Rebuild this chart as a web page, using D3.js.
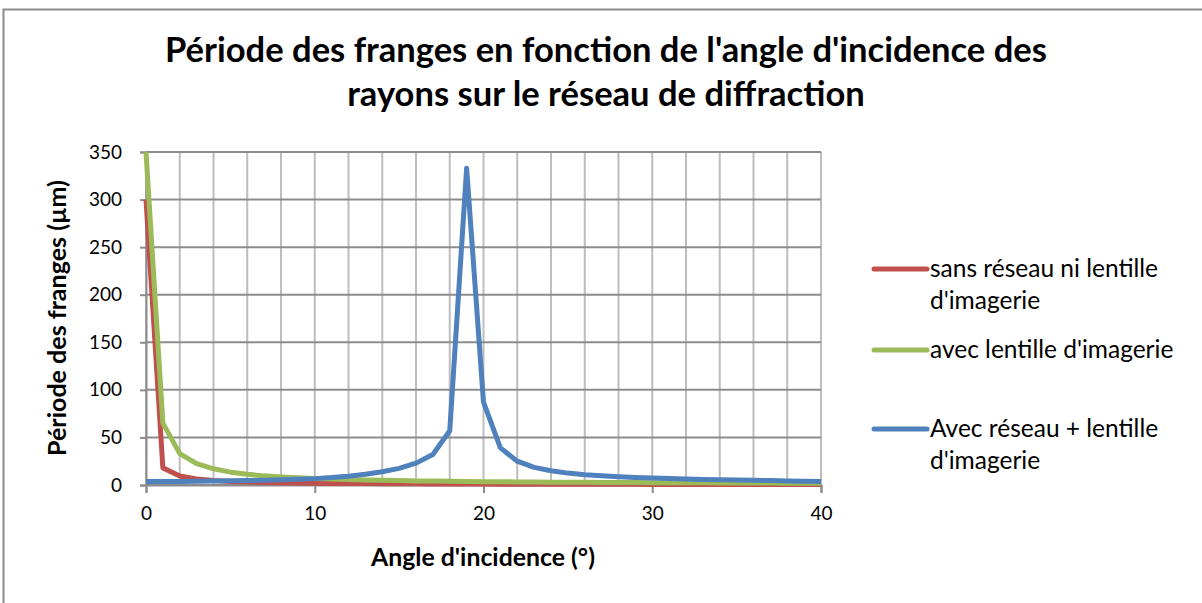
<!DOCTYPE html>
<html>
<head>
<meta charset="utf-8">
<script src="https://cdn.jsdelivr.net/npm/d3@7"></script>
<style>
  html, body { margin: 0; padding: 0; background: #fff; }
  svg { display: block; }
</style>
</head>
<body>
<svg id="chart" width="1202" height="603"></svg>
<script>
// Angle d'incidence (degrés)
const angles = d3.range(0, 41);

// Période des franges (µm) pour chaque montage
const sansReseau = [300, 18, 9.5, 6.3, 4.7, 3.8, 3.2, 2.7, 2.4, 2.1, 1.9, 1.7, 1.6, 1.5, 1.4, 1.3, 1.2, 1.1, 1.05, 1.0,
  0.95, 0.9, 0.86, 0.82, 0.79, 0.76, 0.73, 0.7, 0.68, 0.66, 0.64, 0.62, 0.6, 0.58, 0.56, 0.55, 0.53, 0.52, 0.5, 0.49, 0.48];
const avecLentille = [350, 65, 33, 22.5, 17, 13.5, 11.2, 9.6, 8.4, 7.5, 6.8, 6.2, 5.7, 5.3, 4.9, 4.6, 4.3, 4.1, 3.9, 3.7,
  3.5, 3.4, 3.2, 3.1, 3.0, 2.9, 2.8, 2.7, 2.6, 2.5, 2.45, 2.4, 2.3, 2.25, 2.2, 2.1, 2.05, 2.0, 1.95, 1.9, 1.85];
const avecReseau = [3.6, 3.7, 3.8, 4.0, 4.2, 4.4, 4.7, 5.0, 5.4, 6.0, 6.7, 7.8, 9.3, 11.3, 14, 17.5, 23, 32, 57, 333,
  87, 39, 25, 18.5, 15, 12.5, 10.8, 9.6, 8.6, 7.9, 7.3, 6.8, 6.3, 5.9, 5.5, 5.2, 4.9, 4.6, 4.3, 4.0, 3.8];

const seriesNames = ["sans réseau ni lentille d'imagerie", "avec lentille d'imagerie", "Avec réseau + lentille d'imagerie"];
const seriesColors = ["#C0504D", "#9BBB59", "#4F81BD"];
const seriesValues = [sansReseau, avecLentille, avecReseau];

const xTicks = [0, 10, 20, 30, 40];
const xGrid = d3.range(0, 41, 2);
const yTicks = [0, 50, 100, 150, 200, 250, 300, 350];

const titleLines = ["Période des franges en fonction de l'angle d'incidence des", "rayons sur le réseau de diffraction"];
const xTitle = "Angle d'incidence (°)";
const yTitle = "Période des franges (µm)";

const FONT = "Lato, 'Open Sans', sans-serif";
const svg = d3.select("#chart");

// cadre du graphique
svg.append("path")
  .attr("d", "M3.5,603 L3.5,9.5 L1202,9.5")
  .attr("fill", "none").attr("stroke", "#8c8c8c").attr("stroke-width", 2);

const plot = { left: 146, right: 821, top: 152, bottom: 485 };
const x = d3.scaleLinear().domain([0, 40]).range([plot.left, plot.right]);
const y = d3.scaleLinear().domain([0, 350]).range([plot.bottom, plot.top]);

// quadrillage vertical
svg.append("g").selectAll("line").data(xGrid).join("line")
  .attr("x1", d => x(d)).attr("x2", d => x(d))
  .attr("y1", plot.top).attr("y2", plot.bottom)
  .attr("stroke", "#bdbdbd").attr("stroke-width", 2);

// quadrillage horizontal
svg.append("g").selectAll("line").data(yTicks).join("line")
  .attr("x1", plot.left).attr("x2", plot.right)
  .attr("y1", d => y(d)).attr("y2", d => y(d))
  .attr("stroke", "#8c8c8c").attr("stroke-width", 2);

// axe Y
const yAxis = svg.append("g").attr("transform", `translate(${plot.left},0)`)
  .call(d3.axisLeft(y).tickValues(yTicks).tickSize(6).tickPadding(18));
yAxis.select(".domain").attr("stroke", "#8c8c8c").attr("stroke-width", 2);
yAxis.selectAll(".tick line").attr("stroke", "#8c8c8c").attr("stroke-width", 2);
yAxis.selectAll(".tick text").attr("font-family", FONT).attr("font-size", 19).attr("fill", "#000");

// axe X
const xAxis = svg.append("g").attr("transform", `translate(0,${plot.bottom})`)
  .call(d3.axisBottom(x).tickValues(xTicks).tickSize(8).tickPadding(14));
xAxis.select(".domain").attr("stroke", "#8c8c8c").attr("stroke-width", 2);
xAxis.selectAll(".tick line").attr("stroke", "#8c8c8c").attr("stroke-width", 2);
xAxis.selectAll(".tick text").attr("font-family", FONT).attr("font-size", 19).attr("fill", "#000");

// courbes
const line = d3.line().x((d, i) => x(angles[i])).y(d => y(d));
svg.append("g").selectAll("path").data(seriesValues).join("path")
  .attr("d", d => line(d))
  .attr("fill", "none")
  .attr("stroke", (d, i) => seriesColors[i])
  .attr("stroke-width", 5)
  .attr("stroke-linejoin", "round")
  .attr("stroke-linecap", "butt");

// ajuste la taille de police pour une largeur donnée
function fitSize(text, weight, base, width) {
  const probe = svg.append("text").attr("font-family", FONT).attr("font-weight", weight)
    .attr("font-size", base).text(text);
  const w = probe.node().getComputedTextLength();
  probe.remove();
  return base * width / w;
}

// titre
const titleSize = fitSize(titleLines[0], "bold", 28, 882);
titleLines.forEach((s, i) => {
  svg.append("text").attr("x", 606).attr("y", 62 + i * 44).attr("text-anchor", "middle")
    .attr("font-family", FONT).attr("font-weight", "bold").attr("font-size", titleSize).text(s);
});

// titres des axes
svg.append("text").attr("x", 483).attr("y", 566).attr("text-anchor", "middle")
  .attr("font-family", FONT).attr("font-weight", "bold")
  .attr("font-size", fitSize(xTitle, "bold", 19, 224)).text(xTitle);
svg.append("text").attr("transform", "translate(66,318) rotate(-90)").attr("text-anchor", "middle")
  .attr("font-family", FONT).attr("font-weight", "bold")
  .attr("font-size", fitSize(yTitle, "bold", 19, 276)).text(yTitle);

// légende
const legendRows = [
  { lines: ["sans réseau ni lentille", "d'imagerie"], y: 269 },
  { lines: ["avec lentille d'imagerie"], y: 350 },
  { lines: ["Avec réseau + lentille", "d'imagerie"], y: 429 }
];
const legendSize = fitSize(legendRows[0].lines[0], "normal", 20, 228);
const lg = svg.append("g");
legendRows.forEach((row, i) => {
  lg.append("line").attr("x1", 874).attr("x2", 927).attr("y1", row.y).attr("y2", row.y)
    .attr("stroke", seriesColors[i]).attr("stroke-width", 5).attr("stroke-linecap", "round");
  const t = lg.append("text").attr("x", 930).attr("y", row.y + 8)
    .attr("font-family", FONT).attr("font-size", legendSize).attr("fill", "#000");
  row.lines.forEach((s, k) => {
    t.append("tspan").attr("x", 930).attr("dy", k === 0 ? 0 : 32).text(s);
  });
});
</script>
</body>
</html>
